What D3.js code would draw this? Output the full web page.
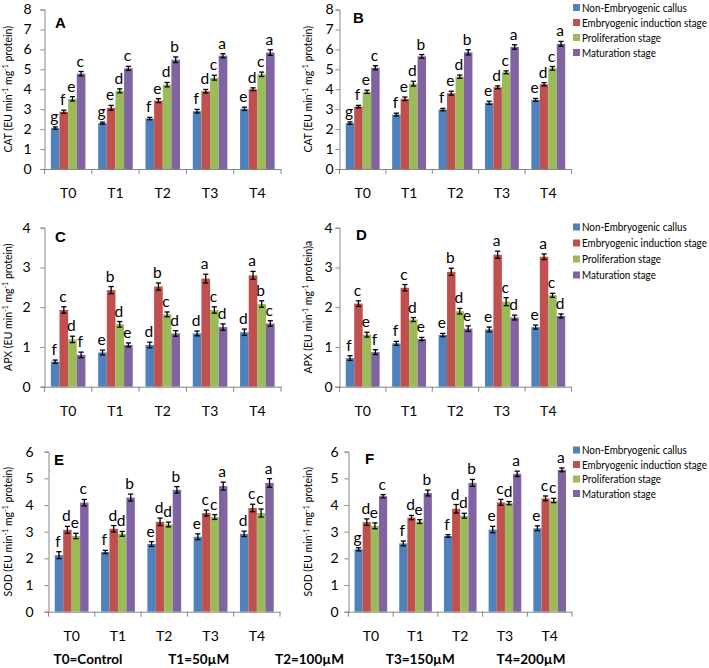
<!DOCTYPE html>
<html>
<head>
<meta charset="utf-8">
<script src="https://cdn.jsdelivr.net/npm/d3@7"></script>
<style>
body { margin: 0; background: #fff; }
svg { display: block; font-family: Lato, "Liberation Sans", sans-serif; }
</style>
</head>
<body>
<div id="chart-area"></div>
<script>
var categories = ["T0", "T1", "T2", "T3", "T4"];
var stages = ["Non-Embryogenic callus", "Embryogenic induction stage", "Proliferation stage", "Maturation stage"];
var colors = ["#4F81BD", "#C0504D", "#9BBB59", "#8064A2"];
var notes = ["T0=Control", "T1=50\u00b5M", "T2=100\u00b5M", "T3=150\u00b5M", "T4=200\u00b5M"];

// values: one row per stage, one column per treatment
var catA = [[2.05, 2.30, 2.53, 2.90, 3.02], [2.87, 3.07, 3.43, 3.90, 4.00], [3.52, 3.92, 4.23, 4.58, 4.75], [4.78, 5.05, 5.48, 5.68, 5.84]];
var catAerr = [[0.06, 0.05, 0.06, 0.09, 0.08], [0.08, 0.12, 0.10, 0.09, 0.07], [0.11, 0.10, 0.11, 0.12, 0.11], [0.11, 0.10, 0.14, 0.10, 0.14]];
var catAlet = [["g", "g", "f", "f", "e"], ["f", "e", "e", "d", "d"], ["e", "d", "d", "c", "c"], ["c", "c", "b", "a", "a"]];

var catB = [[2.30, 2.73, 2.98, 3.32, 3.47], [3.13, 3.52, 3.80, 4.10, 4.25], [3.87, 4.28, 4.63, 4.85, 5.05], [5.08, 5.65, 5.85, 6.12, 6.28]];
var catBerr = [[0.06, 0.07, 0.06, 0.08, 0.07], [0.06, 0.09, 0.10, 0.07, 0.08], [0.08, 0.12, 0.08, 0.07, 0.09], [0.10, 0.09, 0.13, 0.11, 0.12]];
var catBlet = [["g", "f", "f", "e", "e"], ["f", "e", "e", "d", "d"], ["e", "d", "d", "c", "c"], ["c", "b", "b", "a", "a"]];

var apxC = [[0.63, 0.86, 1.05, 1.34, 1.37], [1.93, 2.43, 2.52, 2.72, 2.80], [1.19, 1.57, 1.82, 1.93, 2.08], [0.80, 1.05, 1.34, 1.50, 1.59]];
var apxCerr = [[0.04, 0.06, 0.07, 0.06, 0.08], [0.08, 0.09, 0.09, 0.11, 0.10], [0.08, 0.07, 0.06, 0.08, 0.08], [0.07, 0.05, 0.07, 0.08, 0.07]];
var apxClet = [["f", "e", "d", "d", "d"], ["c", "b", "b", "a", "a"], ["d", "d", "c", "c", "b"], ["f", "e", "d", "d", "c"]];

var apxD = [[0.72, 1.09, 1.30, 1.44, 1.50], [2.09, 2.49, 2.89, 3.32, 3.27], [1.31, 1.69, 1.90, 2.14, 2.30], [0.87, 1.20, 1.46, 1.74, 1.78]];
var apxDerr = [[0.06, 0.05, 0.04, 0.06, 0.05], [0.07, 0.08, 0.09, 0.09, 0.07], [0.06, 0.05, 0.07, 0.10, 0.05], [0.06, 0.04, 0.07, 0.06, 0.05]];
var apxDlet = [["f", "f", "e", "e", "e"], ["c", "c", "b", "a", "a"], ["e", "d", "d", "c", "c"], ["f", "e", "e", "d", "d"]];

var sodE = [[2.12, 2.24, 2.54, 2.81, 2.92], [3.07, 3.11, 3.37, 3.70, 3.89], [2.84, 2.92, 3.27, 3.55, 3.70], [4.09, 4.28, 4.57, 4.71, 4.83]];
var sodEerr = [[0.13, 0.06, 0.09, 0.11, 0.10], [0.13, 0.12, 0.14, 0.11, 0.14], [0.10, 0.09, 0.09, 0.09, 0.15], [0.12, 0.13, 0.12, 0.15, 0.16]];
var sodElet = [["f", "f", "e", "e", "d"], ["d", "d", "d", "c", "c"], ["e", "d", "d", "c", "c"], ["c", "b", "b", "a", "a"]];

var sodF = [[2.34, 2.56, 2.84, 3.08, 3.13], [3.36, 3.53, 3.86, 4.10, 4.25], [3.22, 3.38, 3.60, 4.07, 4.17], [4.33, 4.45, 4.83, 5.17, 5.32]];
var sodFerr = [[0.06, 0.09, 0.05, 0.12, 0.09], [0.12, 0.08, 0.16, 0.11, 0.09], [0.11, 0.07, 0.09, 0.06, 0.08], [0.06, 0.11, 0.13, 0.10, 0.07]];
var sodFlet = [["g", "f", "f", "e", "e"], ["d", "d", "d", "c", "c"], ["e", "e", "d", "d", "c"], ["c", "b", "b", "a", "a"]];

var panels = [
    {tag: "A", name: "CAT", tail: "", vals: catA, err: catAerr, lets: catAlet, max: 8, left: 44.5, right: 281, top: 9.5, base: 169, pad: 13, labX: 8, tagX: 55, tagY: 28},
    {tag: "B", name: "CAT", tail: "", vals: catB, err: catBerr, lets: catBlet, max: 8, left: 339.5, right: 571.5, top: 9.5, base: 169, pad: 6, labX: 308, tagX: 353, tagY: 23, legY: 7.5, legStep: 15},
    {tag: "C", name: "APX", tail: "", vals: apxC, err: apxCerr, lets: apxClet, max: 4, left: 44.5, right: 281, top: 227.7, base: 386.7, pad: 14, labX: 8, tagX: 55, tagY: 241.5},
    {tag: "D", name: "APX", tail: "a", vals: apxD, err: apxDerr, lets: apxDlet, max: 4, left: 339.5, right: 571.5, top: 227.7, base: 386.7, pad: 7, labX: 308, tagX: 356, tagY: 240, legY: 227, legStep: 16},
    {tag: "E", name: "SOD", tail: "", vals: sodE, err: sodEerr, lets: sodElet, max: 6, left: 48.5, right: 280, top: 451.7, base: 611.7, pad: 15, labX: 8, tagX: 54, tagY: 465},
    {tag: "F", name: "SOD", tail: "", vals: sodF, err: sodFerr, lets: sodFlet, max: 6, left: 348.5, right: 572, top: 451.7, base: 611.7, pad: 10, labX: 308.5, tagX: 365, tagY: 464, legY: 450, legStep: 14.5}
];

var svg = d3.select("#chart-area").append("svg")
    .attr("width", 709)
    .attr("height", 668);

var axisColor = "#868686";

panels.forEach(function(p) {
    var g = svg.append("g");

    var x = d3.scaleBand()
        .domain(categories)
        .range([p.left, p.right])
        .padding(0);

    var inner = d3.scaleBand()
        .domain(d3.range(stages.length))
        .range([x.bandwidth() * 0.135, x.bandwidth() * 0.865])
        .padding(0);

    var y = d3.scaleLinear()
        .domain([0, p.max])
        .range([p.base, p.top]);

    // y axis
    var yAxis = d3.axisLeft(y).ticks(p.max).tickSize(4).tickPadding(p.pad - 4).tickFormat(d3.format("d"));
    var ya = g.append("g")
        .attr("transform", "translate(" + p.left + ",0)")
        .call(yAxis);
    ya.select(".domain").attr("stroke", axisColor);
    ya.selectAll(".tick line").attr("stroke", axisColor);
    ya.selectAll(".tick text")
        .attr("fill", "#000")
        .attr("font-size", "14px")
        .attr("font-family", "Lato, sans-serif");

    // x axis with ticks at band edges
    var xa = g.append("g")
        .attr("transform", "translate(0," + p.base + ")")
        .call(d3.axisBottom(x).tickSize(0).tickPadding(19));
    xa.select(".domain").attr("stroke", axisColor);
    xa.selectAll(".tick text")
        .attr("fill", "#000")
        .attr("font-size", "14px")
        .attr("font-family", "Lato, sans-serif");
    var edges = categories.map(function(c) { return x(c); }).concat([p.right]);
    xa.selectAll("line.edge").data(edges).enter()
        .append("line")
            .attr("class", "edge")
            .attr("x1", function(d) { return d; })
            .attr("x2", function(d) { return d; })
            .attr("y1", 0)
            .attr("y2", 5)
            .attr("stroke", axisColor);

    // bars
    var rows = [];
    p.vals.forEach(function(series, s) {
        series.forEach(function(v, i) {
            rows.push({s: s, cat: categories[i], v: v, e: p.err[s][i], l: p.lets[s][i]});
        });
    });

    var bx = function(d) { return x(d.cat) + inner(d.s); };

    g.selectAll("rect.bar").data(rows).enter()
        .append("rect")
            .attr("class", "bar")
            .attr("x", bx)
            .attr("y", function(d) { return y(d.v); })
            .attr("width", inner.bandwidth())
            .attr("height", function(d) { return y(0) - y(d.v); })
            .attr("fill", function(d) { return colors[d.s]; });

    // error bars
    var eb = g.selectAll("g.err").data(rows).enter()
        .append("g")
            .attr("class", "err")
            .attr("stroke", "#000")
            .attr("stroke-width", 1.3);
    eb.append("line")
        .attr("x1", function(d) { return bx(d) + inner.bandwidth() / 2; })
        .attr("x2", function(d) { return bx(d) + inner.bandwidth() / 2; })
        .attr("y1", function(d) { return y(d.v - d.e); })
        .attr("y2", function(d) { return y(d.v + d.e); });
    [-1, 1].forEach(function(k) {
        eb.append("line")
            .attr("x1", function(d) { return bx(d) + inner.bandwidth() / 2 - 2.6; })
            .attr("x2", function(d) { return bx(d) + inner.bandwidth() / 2 + 2.6; })
            .attr("y1", function(d) { return y(d.v + k * d.e); })
            .attr("y2", function(d) { return y(d.v + k * d.e); });
    });

    // significance letters
    g.selectAll("text.let").data(rows).enter()
        .append("text")
            .attr("class", "let")
            .attr("x", function(d) { return bx(d) + inner.bandwidth() / 2 - 1; })
            .attr("y", function(d) { return y(d.v + d.e) - 5; })
            .attr("text-anchor", "middle")
            .attr("font-size", "15.5px")
            .text(function(d) { return d.l; });

    // panel tag
    g.append("text")
        .attr("x", p.tagX)
        .attr("y", p.tagY)
        .attr("font-family", "'Liberation Sans', Arial, sans-serif")
        .attr("font-weight", "bold")
        .attr("font-size", "15px")
        .text(p.tag);

    // y axis label
    var yl = g.append("text")
        .attr("transform", "translate(" + (p.labX + 3.5) + "," + ((p.top + p.base) / 2) + ") rotate(-90)")
        .attr("text-anchor", "middle")
        .attr("font-size", "10.5px");
    yl.append("tspan").text(p.name + " (EU min");
    yl.append("tspan").attr("dy", -3.5).attr("font-size", "7px").text("-1");
    yl.append("tspan").attr("dy", 3.5).text(" mg");
    yl.append("tspan").attr("dy", -3.5).attr("font-size", "7px").text("-1");
    yl.append("tspan").attr("dy", 3.5).text(" protein)" + p.tail);

    // legend
    if (p.legY !== undefined) {
        var leg = g.selectAll("g.leg").data(stages).enter()
            .append("g")
                .attr("class", "leg")
                .attr("transform", function(d, i) { return "translate(573," + (p.legY + i * p.legStep) + ")"; });
        leg.append("rect")
            .attr("x", 0)
            .attr("y", -3.5)
            .attr("width", 7)
            .attr("height", 7)
            .attr("fill", function(d, i) { return colors[i]; });
        var lt = leg.append("text")
            .attr("y", 4)
            .attr("font-size", "11.5px")
            .text(function(d) { return d; });
        // squeeze the labels to the narrow width of the original legend font
        var widest = d3.max(lt.nodes(), function(n) { return n.getComputedTextLength(); });
        var k = Math.min(1, 125 / widest);
        lt.attr("transform", "translate(9,0) scale(" + k + ",1)");
    }
});

// treatment key at the bottom
var noteX = d3.scalePoint()
    .domain(notes)
    .range([88, 531]);
svg.selectAll("text.note").data(notes).enter()
    .append("text")
        .attr("class", "note")
        .attr("x", function(d) { return noteX(d); })
        .attr("y", 664)
        .attr("text-anchor", "middle")
        .attr("font-weight", "bold")
        .attr("font-size", "13.5px")
        .text(function(d) { return d; });
</script>
</body>
</html>
